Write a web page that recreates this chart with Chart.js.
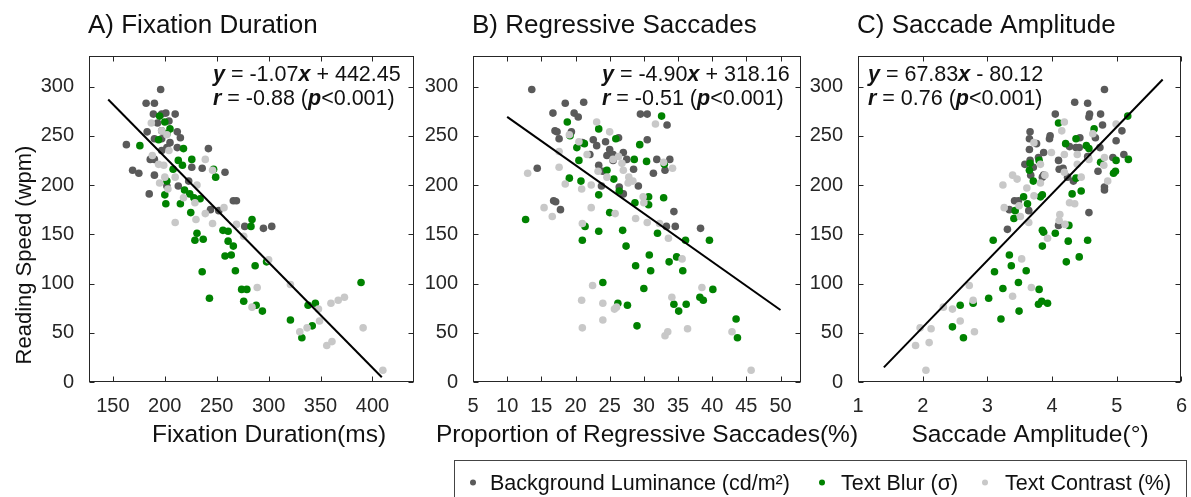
<!DOCTYPE html>
<html>
<head>
<meta charset="utf-8">
<script src="https://cdn.jsdelivr.net/npm/chart.js@4.4.1/dist/chart.umd.min.js"></script>
<style>
	html, body { margin: 0; padding: 0; background: #fff; }
	#wrap { position: relative; width: 1191px; height: 497px; overflow: hidden; }
	#wrap canvas { position: absolute; left: 0; top: 0; }
</style>
</head>
<body>
<div id="wrap">
	<canvas id="panelA" width="1191" height="497"></canvas>
	<canvas id="panelB" width="1191" height="497"></canvas>
	<canvas id="panelC" width="1191" height="497"></canvas>
</div>
<script>
(() => {
	'use strict'

	// ---- data ----
	const speedTicks = [0, 50, 100, 150, 200, 250, 300];
	const fixTicks = [150, 200, 250, 300, 350, 400];
	const regTicks = [5, 10, 15, 20, 25, 30, 35, 40, 45, 50];
	const ampTicks = [1, 2, 3, 4, 5, 6];

	const seriesNames = ['Background Luminance (cd/m\u00B2)', 'Text Blur (\u03C3)', 'Text Contrast (%)'];
	const panelTitles = ['A) Fixation Duration', 'B) Regressive Saccades', 'C) Saccade Amplitude'];
	const axisTitles = ['Fixation Duration(ms)', 'Proportion of Regressive Saccades(%)', 'Saccade Amplitude(\u00B0)'];
	const yTitle = 'Reading Speed (wpm)';

	// regression: y = slope*x + intercept
	const slopes = [-1.07, -4.90, 67.83];
	const intercepts = [442.45, 318.16, -80.12];
	const rValues = [-0.88, -0.51, 0.76];
	const pValues = ['<0.001', '<0.001', '<0.001'];
	const fitRanges = [[145.5, 409], [10, 50], [1.4, 5.71]];

	// Fixation duration (ms) vs reading speed
	const fixLum = [[196,297],[182,283],[190,283],[189,272],[197,272],[201,273],[210,272],[183,254],[212,254],[215,248],[163,241],[190,247],[197,247],[205,243],[202,238],[212,238],[242,237],[169,215],[175,212],[190,210],[186,226],[190,226],[226,218],[236,217],[258,213],[185,191],[213,199],[223,204],[266,184],[269,184],[244,175],[252,174],[277,158],[295,156],[303,158],[202,199],[197,235],[193,263],[197,255],[204,265]];
	const fixBlur = [[195,270],[200,264],[205,257],[176,240],[194,246],[202,252],[218,237],[226,226],[213,225],[208,216],[217,220],[247,216],[249,208],[202,204],[200,190],[201,181],[219,195],[224,191],[228,187],[234,186],[215,181],[225,172],[284,165],[283,158],[256,154],[261,153],[231,151],[229,144],[237,145],[261,143],[266,138],[258,128],[264,129],[287,118],[298,122],[236,112],[268,113],[274,94],[279,94],[243,85],[276,82],[288,78],[294,72],[321,63],[338,78],[345,80],[342,57],[332,45],[389,101]];
	const fixCon = [[187,263],[197,255],[202,251],[188,230],[199,220],[195,202],[203,196],[200,208],[210,208],[239,226],[246,215],[231,200],[218,187],[229,182],[239,171],[230,165],[210,162],[246,161],[257,177],[269,160],[276,148],[300,124],[289,96],[284,76],[321,99],[348,74],[349,62],[337,55],[330,51],[360,80],[367,83],[373,86],[391,55],[356,37],[361,41],[410,12],[194,221],[204,235]];

	// Regressive saccades (%) vs reading speed
	const regLum = [[13.6,297],[16.7,273],[18.5,283],[21.2,284],[19.8,273],[20.4,269],[17,255],[17.3,254],[17.6,247],[14.4,217],[16.8,184],[17.1,183],[17.8,175],[19.4,254],[21,243],[22.6,246],[23.1,240],[24.4,244],[25,236],[24.6,230],[23.4,220],[24,214],[25.5,225],[26.3,248],[25.5,231],[27,233],[27.5,226],[26.4,198],[27,191],[28.5,216],[29.2,199],[29.5,272],[30.5,272],[30.5,246],[31.4,212],[31.9,226],[33.1,215],[33.4,261],[33.8,226],[34.4,173],[34.6,158],[33.3,158],[38.3,156],[23.8,199],[22.1,231]];
	const regBlur = [[12.7,165],[18.8,264],[19.2,250],[19.1,207],[20.2,238],[20.5,225],[21.3,242],[20.8,204],[21.4,158],[21,144],[23.4,257],[23.4,190],[23.4,153],[24,101],[24.6,215],[25,172],[25.9,247],[25.6,206],[26.4,194],[26.9,154],[27.4,138],[26.2,80],[27.6,78],[28.6,226],[28.7,182],[28.8,118],[29,57],[29.4,241],[30,95],[30.4,224],[30.7,188],[30.7,180],[30.8,129],[31,113],[32,151],[32.6,270],[32.9,187],[33.7,122],[33,221],[34.4,79],[34.8,127],[35.1,72],[35.7,113],[36.1,144],[36.2,79],[38.2,86],[38.7,83],[39.6,144],[40.1,94],[43.5,64],[43.7,45]];
	const regCon = [[13,212],[15.4,177],[16.6,168],[17.6,234],[17.6,218],[18.5,201],[19.1,251],[20.5,244],[20.9,196],[21,161],[21.7,231],[20.9,83],[21,55],[22.3,200],[22.3,177],[22.5,98],[23.1,264],[23.3,214],[24,80],[24,63],[24.6,208],[25,254],[25.5,226],[25.8,171],[25.7,74],[26,76],[26.3,229],[26.8,222],[27,215],[27.8,208],[27.7,202],[28.4,204],[28.8,166],[29.9,188],[30,182],[30.5,162],[31.7,262],[32.3,161],[32.9,223],[33.1,47],[33.5,51],[33.6,146],[34.2,217],[34.1,86],[35.6,125],[36.4,54],[38.5,96],[42.9,51],[45.7,12]];

	// Saccade amplitude (deg) vs reading speed
	const ampLum = [[4.81,297],[4.05,272],[4.35,284],[4.55,283],[4.58,272],[4.57,269],[4.75,272],[4.78,261],[3.97,250],[3.96,247],[3.66,254],[3.65,247],[3.76,242],[3.65,236],[3.87,233],[3.79,228],[3.66,225],[3.58,221],[3.71,218],[3.87,210],[3.85,208],[3.67,210],[4.1,225],[4.11,216],[4.17,217],[4.24,208],[4.27,239],[4.33,204],[4.37,238],[4.42,238],[4.43,248],[4.55,229],[4.67,248],[4.71,214],[4.74,238],[4.81,198],[4.81,195],[4.57,172],[4.94,228],[4.99,245],[5.08,255],[5.11,231],[3.34,175],[3.42,184],[3.48,184],[3.64,174],[3.31,155],[4.1,159]];
	const ampBlur = [[5.17,270],[4.1,263],[4.65,257],[4.21,242],[4.37,247],[4.53,240],[4.57,237],[3.66,222],[3.65,215],[3.71,204],[3.8,225],[4.75,223],[4.99,225],[4.98,214],[4.95,212],[5.18,226],[4.37,207],[3.56,188],[3.62,181],[3.43,174],[3.41,166],[3.82,188],[3.85,190],[4.31,191],[4.45,194],[3.09,144],[3.85,154],[3.87,152],[4.05,151],[4.26,159],[4.25,143],[4.55,144],[4.42,127],[4.22,122],[3.34,129],[3.37,118],[3.6,113],[3.11,112],[3.85,138],[3.48,101],[3.24,95],[3.8,94],[3.02,85],[3.84,82],[3.79,79],[3.93,80],[3.49,72],[3.21,64],[2.58,78],[2.78,80],[2.46,56],[2.63,45]];
	const ampCon = [[2.05,12],[1.89,37],[1.96,55],[2.1,40],[2.13,54],[2.32,76],[2.46,74],[2.58,62],[2.72,98],[2.78,83],[2.8,51],[3.24,200],[3.26,177],[3.39,87],[3.53,125],[3.68,96],[3.39,210],[3.46,206],[3.49,179],[3.51,168],[3.61,197],[3.64,162],[3.72,243],[3.72,189],[3.82,221],[3.82,202],[3.89,210],[3.93,146],[3.99,233],[4.15,255],[4.19,264],[4.19,231],[4.19,213],[4.11,164],[4.12,170],[4.2,160],[4.27,182],[4.35,181],[4.39,221],[4.39,231],[4.45,208],[4.57,226],[4.63,252],[4.81,228],[4.8,220],[4.86,204],[4.99,262]];

	// ---- style ----
	const fam = '"Liberation Sans", Arial, sans-serif';
	const lumColor = '#5a5a5a';
	const blurColor = '#008200';
	const conColor = '#c8c8c8';
	const inkColor = '#262626';
	const yAxisW = 48;
	const xAxisH = 30;
	const tickLen = 5;

	// plot boxes: [left, right, top, bottom] and x ranges
	const boxes = [[89, 414, 56, 382], [473, 801, 56, 382], [858, 1184, 56, 382]];
	const xRanges = [[127, 440], [5, 53], [1, 6]];
	const annoX = [213, 602, 868];
	const xTitleCenter = [269, 647, 1030];

	Chart.defaults.font.family = fam;

	function toXY(arr) {
		return arr.map(p => ({ x: p[0], y: p[1] }));
	}

	function fitLine(i) {
		return fitRanges[i].map(v => ({ x: v, y: slopes[i] * v + intercepts[i] }));
	}

	function drawRich(ctx, parts, x, y, size) {
		parts.forEach(([t, em]) => {
			ctx.font = (em ? 'italic bold ' : '') + size + 'px ' + fam;
			ctx.fillText(t, x, y);
			x += ctx.measureText(t).width;
		});
	}

	// Frame, inward ticks and all the panel texts
	const panelText = {
		id: 'panelText',
		afterDraw(chart, args, opts) {
			const i = opts.index;
			const { ctx, chartArea: a, scales: { x, y } } = chart;
			ctx.save();
			ctx.strokeStyle = inkColor;
			ctx.lineWidth = 1;
			const L = Math.round(a.left) + 0.5, R = Math.round(a.right) - 0.5;
			const T = Math.round(a.top) + 0.5, B = Math.round(a.bottom) - 0.5;
			ctx.strokeRect(L, T, R - L, B - T);
			ctx.beginPath();
			x.ticks.forEach(t => {
				const px = Math.round(x.getPixelForValue(t.value)) + 0.5;
				ctx.moveTo(px, B); ctx.lineTo(px, B - tickLen);
				ctx.moveTo(px, T); ctx.lineTo(px, T + tickLen);
			});
			y.ticks.forEach(t => {
				const py = Math.round(y.getPixelForValue(t.value)) + 0.5;
				ctx.moveTo(L, py); ctx.lineTo(L + tickLen, py);
				ctx.moveTo(R, py); ctx.lineTo(R - tickLen, py);
			});
			ctx.stroke();

			ctx.fillStyle = '#111';
			ctx.textBaseline = 'alphabetic';
			// panel title
			ctx.textAlign = 'left';
			ctx.font = '26px ' + fam;
			ctx.fillText(panelTitles[i], a.left - 1, 33);

			// regression text
			const b = intercepts[i];
			const eq = [['y', 1], [' = ' + slopes[i].toFixed(2), 0], ['x', 1], [(b < 0 ? ' - ' : ' + ') + Math.abs(b).toFixed(2), 0]];
			const rr = [['r', 1], [' = ' + rValues[i].toFixed(2) + ' (', 0], ['p', 1], [pValues[i] + ')', 0]];
			drawRich(ctx, eq, annoX[i], 81, 21.5);
			drawRich(ctx, rr, annoX[i], 105, 21.5);

			// x axis title
			ctx.textAlign = 'center';
			ctx.font = '24.5px ' + fam;
			ctx.fillText(axisTitles[i], xTitleCenter[i], 442);

			if (i === 0) {
				ctx.save();
				ctx.font = '22px ' + fam;
				ctx.translate(31, 255);
				ctx.rotate(-Math.PI / 2);
				ctx.fillText(yTitle, 0, 0);
				ctx.restore();
			}

			if (i === 2) {
				// shared legend
				ctx.strokeStyle = '#444';
				ctx.strokeRect(454.5, 460.5, 732, 40);
				const markX = [473, 822, 985];
				const textX = [490, 841, 1005];
				const cols = [lumColor, blurColor, conColor];
				ctx.textAlign = 'left';
				ctx.font = '21.5px ' + fam;
				seriesNames.forEach((n, k) => {
					ctx.fillStyle = cols[k];
					ctx.beginPath();
					ctx.arc(markX[k], 482.5, 3, 0, Math.PI * 2);
					ctx.fill();
					ctx.fillStyle = '#111';
					ctx.fillText(n, textX[k], 489.5);
				});
			}
			ctx.restore();
		}
	};

	function makePanel(id, i, lum, blur, con, xTicks) {
		const box = boxes[i];
		const pt = { pointRadius: 3.8, pointHoverRadius: 3.8, borderWidth: 0, pointBorderWidth: 0 };
		return new Chart(document.getElementById(id), {
			type: 'scatter',
			data: {
				datasets: [
					{ label: 'fit', data: fitLine(i), showLine: true, borderColor: '#000', borderWidth: 2, pointRadius: 0, order: 0 },
					Object.assign({ label: seriesNames[2], data: toXY(con), backgroundColor: conColor, order: 1 }, pt),
					Object.assign({ label: seriesNames[1], data: toXY(blur), backgroundColor: blurColor, order: 2 }, pt),
					Object.assign({ label: seriesNames[0], data: toXY(lum), backgroundColor: lumColor, order: 3 }, pt),
				]
			},
			options: {
				responsive: false,
				animation: false,
				devicePixelRatio: 1,
				events: [],
				layout: {
					padding: { left: box[0] - yAxisW, right: 1191 - box[1], top: box[2], bottom: 497 - box[3] - xAxisH }
				},
				plugins: {
					legend: { display: false },
					tooltip: { enabled: false },
					panelText: { index: i }
				},
				scales: {
					x: {
						type: 'linear',
						min: xRanges[i][0],
						max: xRanges[i][1],
						afterBuildTicks: s => { s.ticks = xTicks.map(v => ({ value: v })); },
						afterFit: s => { s.height = xAxisH; },
						grid: { display: false },
						border: { display: false },
						ticks: { color: inkColor, font: { size: 20 }, padding: 4, maxRotation: 0, autoSkip: false }
					},
					y: {
						type: 'linear',
						min: 0,
						max: 331,
						afterBuildTicks: s => { s.ticks = speedTicks.map(v => ({ value: v })); },
						afterFit: s => { s.width = yAxisW; },
						grid: { display: false },
						border: { display: false },
						ticks: { color: inkColor, font: { size: 20 }, padding: 7, autoSkip: false }
					}
				}
			},
			plugins: [panelText]
		});
	}

	makePanel('panelA', 0, fixLum, fixBlur, fixCon, fixTicks);
	makePanel('panelB', 1, regLum, regBlur, regCon, regTicks);
	makePanel('panelC', 2, ampLum, ampBlur, ampCon, ampTicks);
})()
</script>
</body>
</html>
